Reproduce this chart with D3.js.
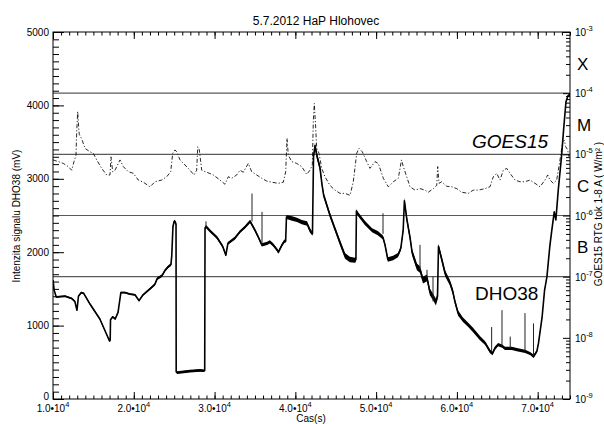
<!DOCTYPE html>
<html><head><meta charset="utf-8">
<script src="https://cdn.jsdelivr.net/npm/d3@7/dist/d3.min.js"></script>
<style>body{margin:0;background:#fff}svg{display:block}text{font-family:"Liberation Sans",Arial,sans-serif;fill:#000}</style>
</head><body><svg id="c" width="604" height="424"></svg>
<script>
// ---------- DATA ----------
const title = "5.7.2012 HaP Hlohovec";
const xTitle = "Cas(s)";
const yLeftTitle = "Intenzita signalu DHO38 (mV)";
const yRightTitle = "GOES15 RTG tok 1-8 A ( W/m\u00B2 )";
const xDomain = [10000, 74000];
const xMajorTicks = [10000, 20000, 30000, 40000, 50000, 60000, 70000];
const xMajorLabels = ["1.0", "2.0", "3.0", "4.0", "5.0", "6.0", "7.0"];
const yLeftTicks = [0, 1000, 2000, 3000, 4000, 5000];
const yRightTicks = [1e-9, 1e-8, 1e-7, 1e-6, 1e-5, 1e-4, 1e-3];
const yRightExp = ["-9", "-8", "-7", "-6", "-5", "-4", "-3"];
const classBounds = [1e-4, 1e-5, 1e-6, 1e-7];
const classLetters = ["X", "M", "C", "B"];
const classCenters = [3.16e-4, 3.16e-5, 3.16e-6, 3.16e-7];

// DHO38 signal (mV): time, value, half-width of noise band
const dhoTime = [
  10000,10150,10400,11500,12300,12700,12970,13150,13500,13800,
  14600,15800,17000,17080,17120,17400,17700,18050,18400,18900,
  19500,20150,20650,21150,22000,22600,22900,23500,23850,24250,
  24600,24700,24850,25000,25150,25230,25250,25400,26950,28200,
  28700,28780,28820,28950,29450,30300,31000,31400,31650,32500,
  33150,33750,34400,35000,35400,35850,36500,36850,37250,37750,
  37900,38350,38650,38800,38900,39600,40200,40800,41450,41800,
  42120,42250,42430,42700,43050,43300,43500,43900,44300,44900,
  45500,46150,46750,47400,47500,47560,47750,48600,49500,50200,
  50850,51100,51450,52100,52700,53050,53350,53500,53800,54200,
  54450,54630,55050,55450,55800,56300,56650,57050,57400,57600,
  57720,58150,58550,59150,59500,59750,60150,60750,61400,62000,
  62850,63500,64100,64400,64700,65100,65600,65950,66800,67550,
  68450,69050,69500,69900,70100,70550,70850,71150,71500,71750,
  72050,72250,72550,72950,73200,73500,73750,74000];
const dhoMV = [
  1620,1480,1390,1400,1370,1330,1210,1400,1450,1440,
  1290,1090,790,800,1080,1120,1090,1180,1450,1450,
  1430,1420,1340,1420,1500,1560,1640,1680,1750,1800,
  1830,1950,2350,2420,2410,2380,370,360,380,390,
  385,390,2330,2350,2290,2200,2080,1960,2120,2190,
  2280,2340,2420,2300,2210,2100,2120,2140,2100,2030,
  2000,2100,2150,2150,2480,2460,2440,2410,2390,2300,
  2250,3300,3450,3300,3150,2920,2780,2640,2500,2320,
  2140,1950,1900,1890,1900,2560,2520,2400,2300,2260,
  2200,2100,1900,1920,1960,2050,2300,2700,2450,2200,
  2000,1940,1800,1760,1620,1650,1460,1390,1320,1400,
  2080,1890,1710,1580,1460,1330,1170,1080,1010,940,
  830,760,650,620,690,740,720,690,690,670,
  650,620,580,650,760,1120,1480,1670,2080,2300,
  2550,2440,2850,3300,3660,4050,4130,4150];
const dhoSpread = [
  12,12,12,12,12,12,12,12,12,12,
  12,12,12,12,12,12,12,12,12,12,
  12,12,12,12,14,16,18,18,18,18,
  18,12,20,22,22,20,16,18,18,18,
  18,16,18,22,20,20,20,20,20,20,
  20,22,22,22,22,22,22,22,22,22,
  22,22,22,20,28,30,30,30,30,30,
  25,30,40,40,40,35,35,35,35,35,
  38,38,38,35,30,28,28,28,28,28,
  28,30,30,30,30,30,40,45,45,45,
  45,45,45,45,45,45,45,45,45,40,
  35,40,40,38,38,35,35,32,30,30,
  28,26,25,25,24,22,22,22,22,22,
  22,22,22,20,15,12,12,14,14,14,
  14,14,12,12,12,12,12,12];
// isolated DHO38 spikes
const spikeTime = [28940, 34635, 35873, 50852, 55432, 56299, 57042, 64300, 65582, 66600, 68429, 69481];
const spikeBase = [2350, 2420, 2100, 2250, 1760, 1650, 1330, 650, 720, 690, 650, 580];
const spikeTop  = [2420, 2800, 2550, 2530, 2100, 1760, 1670, 980, 1210, 850, 1170, 1030];

// GOES15 1-8 A flux (W/m^2)
const goesTime = [
  10000,10656,11275,11894,12315,12600,12847,12934,13058,13181,
  13256,13553,13961,14580,14989,15410,16029,16648,17056,17180,
  17390,17675,18294,18703,19322,19940,20559,21178,22007,22627,
  23456,24075,24570,24818,25102,25313,25721,26340,26959,27454,
  27789,27913,28111,28408,29027,29844,30673,31292,31700,32122,
  32741,33149,33558,34177,34598,35217,35835,36454,37073,37890,
  38509,38806,38967,39128,39549,40168,40787,41406,41814,42099,
  42223,42347,42520,42644,42929,43263,43671,44290,44909,45528,
  46147,46766,47175,47596,47881,48289,48834,49242,49861,50270,
  50889,51508,52127,52746,53141,53365,53786,54195,54813,55432,
  56051,56460,57079,57500,57624,57785,58119,58738,59356,59975,
  60594,61411,62030,62649,63478,64097,64505,64926,65334,65743,
  66164,66572,67191,67810,68429,69048,69667,70286,70905,71239,
  71523,71932,72353,72761,73096,73294,73467,73715,73876];
const goesFlux = [
  8.1e-6,7.6e-6,7.1e-6,6.3e-6,5.5e-6,7.6e-6,9.7e-6,2.3e-5,5.0e-5,2.7e-5,
  2.1e-5,1.8e-5,1.25e-5,1.1e-5,1.04e-5,8.1e-6,5.9e-6,4.6e-6,4.6e-6,9.1e-6,
  5.2e-6,5.5e-6,8.1e-6,6.3e-6,5.2e-6,4.9e-6,3.8e-6,3.5e-6,2.95e-6,3.56e-6,
  3.8e-6,4.3e-6,5.2e-6,1.04e-5,1.18e-5,1.1e-5,8.1e-6,6.7e-6,5.5e-6,4.6e-6,
  5.5e-6,1.33e-5,1.18e-5,5.5e-6,5.1e-6,4.6e-6,3.8e-6,3.24e-6,4.3e-6,4.06e-6,
  4.6e-6,5.5e-6,5.1e-6,7.1e-6,5.2e-6,4.6e-6,4.06e-6,3.66e-6,3.5e-6,3.36e-6,
  3.5e-6,5.2e-6,1.83e-5,9.7e-6,7.6e-6,7.1e-6,6.3e-6,4.7e-6,5.5e-6,6.7e-6,
  3.4e-5,6.8e-5,2.7e-5,1.25e-5,1.04e-5,5.9e-6,4.3e-6,3.1e-6,2.6e-6,2.3e-6,
  2.3e-6,2.14e-6,3.56e-6,1.04e-5,1.25e-5,1.1e-5,7.6e-6,5.9e-6,7.6e-6,7.1e-6,
  4.06e-6,2.95e-6,3.56e-6,4.06e-6,8.1e-6,6.3e-6,4.3e-6,2.95e-6,2.6e-6,2.75e-6,
  2.6e-6,2.4e-6,2.75e-6,3.1e-6,6.3e-6,3.36e-6,3.56e-6,3.0e-6,2.95e-6,2.75e-6,
  2.4e-6,2.3e-6,2.6e-6,2.6e-6,2.75e-6,2.95e-6,4.3e-6,4.9e-6,3.8e-6,5.5e-6,
  5.9e-6,4.9e-6,3.8e-6,3.56e-6,3.56e-6,3.8e-6,3.36e-6,2.95e-6,3.8e-6,4.6e-6,
  3.8e-6,3.36e-6,3.8e-6,8.1e-6,1.6e-5,1.7e-5,1.33e-5,1.18e-5,9.1e-6];

// ---------- DRAW ----------
const L = 53, R = 570, T = 32, B = 399;
const svg = d3.select("#c");
const x = d3.scaleLinear().domain(xDomain).range([L, R]);
const yL = d3.scaleLinear().domain([0, 5000]).range([B, T]);
const yR = d3.scaleLog().domain([1e-9, 1e-3]).range([B, T]);

svg.append("defs").append("clipPath").attr("id", "clip")
  .append("rect").attr("x", L).attr("y", T).attr("width", R - L).attr("height", B - T);

// class boundary lines
svg.append("g").selectAll("line").data(classBounds).join("line")
  .attr("x1", L).attr("x2", R)
  .attr("y1", d => yR(d)).attr("y2", d => yR(d))
  .attr("stroke", "#5a5a5a").attr("stroke-width", 1.2);

const plot = svg.append("g").attr("clip-path", "url(#clip)");

// GOES dash-dot line
const gi = d3.range(goesTime.length);
plot.append("path")
  .attr("d", d3.line().x(i => x(goesTime[i])).y(i => yR(goesFlux[i]))(gi))
  .attr("fill", "none").attr("stroke", "#111").attr("stroke-width", 0.9)
  .attr("stroke-dasharray", "4,2,1.2,2");

// DHO38 band + line
const di = d3.range(dhoTime.length);
plot.append("path")
  .attr("d", d3.area().x(i => x(dhoTime[i]))
    .y0(i => yL(dhoMV[i] - dhoSpread[i])).y1(i => yL(dhoMV[i] + dhoSpread[i]))(di))
  .attr("fill", "#000");
plot.append("path")
  .attr("d", d3.line().x(i => x(dhoTime[i])).y(i => yL(dhoMV[i]))(di))
  .attr("fill", "none").attr("stroke", "#000").attr("stroke-width", 1.6)
  .attr("stroke-linejoin", "round");
plot.append("g").selectAll("line").data(d3.range(spikeTime.length)).join("line")
  .attr("x1", i => x(spikeTime[i])).attr("x2", i => x(spikeTime[i]))
  .attr("y1", i => yL(spikeBase[i])).attr("y2", i => yL(spikeTop[i]))
  .attr("stroke", "#222").attr("stroke-width", 1);

// ---------- AXES ----------
function axisG(transform, axis) {
  const g = svg.append("g").attr("transform", transform).call(axis);
  g.select(".domain").remove();
  g.selectAll("line").attr("stroke", "#000");
  return g;
}
const xMinor = d3.range(xDomain[0], xDomain[1] + 1, 1000);
axisG(`translate(0,${B})`, d3.axisBottom(x).tickValues(xMinor).tickSize(-3.5).tickFormat(""));
axisG(`translate(0,${B})`, d3.axisBottom(x).tickValues(xMajorTicks).tickSize(-7).tickFormat(""));
axisG(`translate(0,${T})`, d3.axisTop(x).tickValues(xMinor).tickSize(-3.5).tickFormat(""));
axisG(`translate(0,${T})`, d3.axisTop(x).tickValues(xMajorTicks).tickSize(-7).tickFormat(""));
axisG(`translate(${L},0)`, d3.axisLeft(yL).tickValues(d3.range(0, 5001, 100)).tickSize(-6).tickFormat(""));
axisG(`translate(${L},0)`, d3.axisLeft(yL).tickValues(yLeftTicks).tickSize(-11).tickFormat(""));
const rMinor = [];
yRightTicks.slice(0, -1).forEach(d => { for (let k = 2; k <= 9; k++) rMinor.push(d * k); });
axisG(`translate(${R},0)`, d3.axisRight(yR).tickValues(rMinor).tickSize(-4).tickFormat(""));
axisG(`translate(${R},0)`, d3.axisRight(yR).tickValues(yRightTicks).tickSize(-7).tickFormat(""));

// frame
svg.append("rect").attr("x", L).attr("y", T).attr("width", R - L).attr("height", B - T)
  .attr("fill", "none").attr("stroke", "#000").attr("stroke-width", 1);

// left labels
svg.append("g").selectAll("text").data(yLeftTicks).join("text")
  .attr("x", L - 4).attr("y", d => yL(d) + (d === 0 ? 0.5 : 3.5)).attr("text-anchor", "end")
  .attr("font-size", 10).text(d => d);

// bottom labels
xMajorTicks.forEach((d, i) => {
  const t = svg.append("text").attr("x", x(d)).attr("y", 412)
    .attr("text-anchor", "middle").attr("font-size", 10);
  t.append("tspan").text(xMajorLabels[i] + "\u2022" + "10");
  t.append("tspan").attr("dy", -5).attr("font-size", 7.5).text("4");
});

// right labels
yRightTicks.forEach((d, i) => {
  const t = svg.append("text").attr("x", R + 5).attr("y", yR(d) + 4).attr("font-size", 10);
  t.append("tspan").text("10");
  t.append("tspan").attr("dy", -5).attr("font-size", 7.5).text(yRightExp[i]);
});

// class letters
svg.append("g").selectAll("text").data(classLetters).join("text")
  .attr("x", 577).attr("y", (d, i) => yR(classCenters[i]) + 7)
  .attr("font-size", 17).text(d => d);

// titles
svg.append("text").attr("x", 316).attr("y", 25).attr("text-anchor", "middle")
  .attr("font-size", 12).text(title);
svg.append("text").attr("x", 311).attr("y", 422).attr("text-anchor", "middle")
  .attr("font-size", 10).text(xTitle);
svg.append("text").attr("transform", "translate(20,216) rotate(-90)")
  .attr("text-anchor", "middle").attr("font-size", 10).text(yLeftTitle);
svg.append("text").attr("transform", "translate(602,214) rotate(-90)")
  .attr("text-anchor", "middle").attr("font-size", 10).text(yRightTitle);

// series labels
svg.append("text").attr("x", 472).attr("y", 148).attr("font-size", 19)
  .attr("font-style", "italic").text("GOES15");
svg.append("text").attr("x", 475).attr("y", 300).attr("font-size", 19)
  .text("DHO38");
</script></body></html>
